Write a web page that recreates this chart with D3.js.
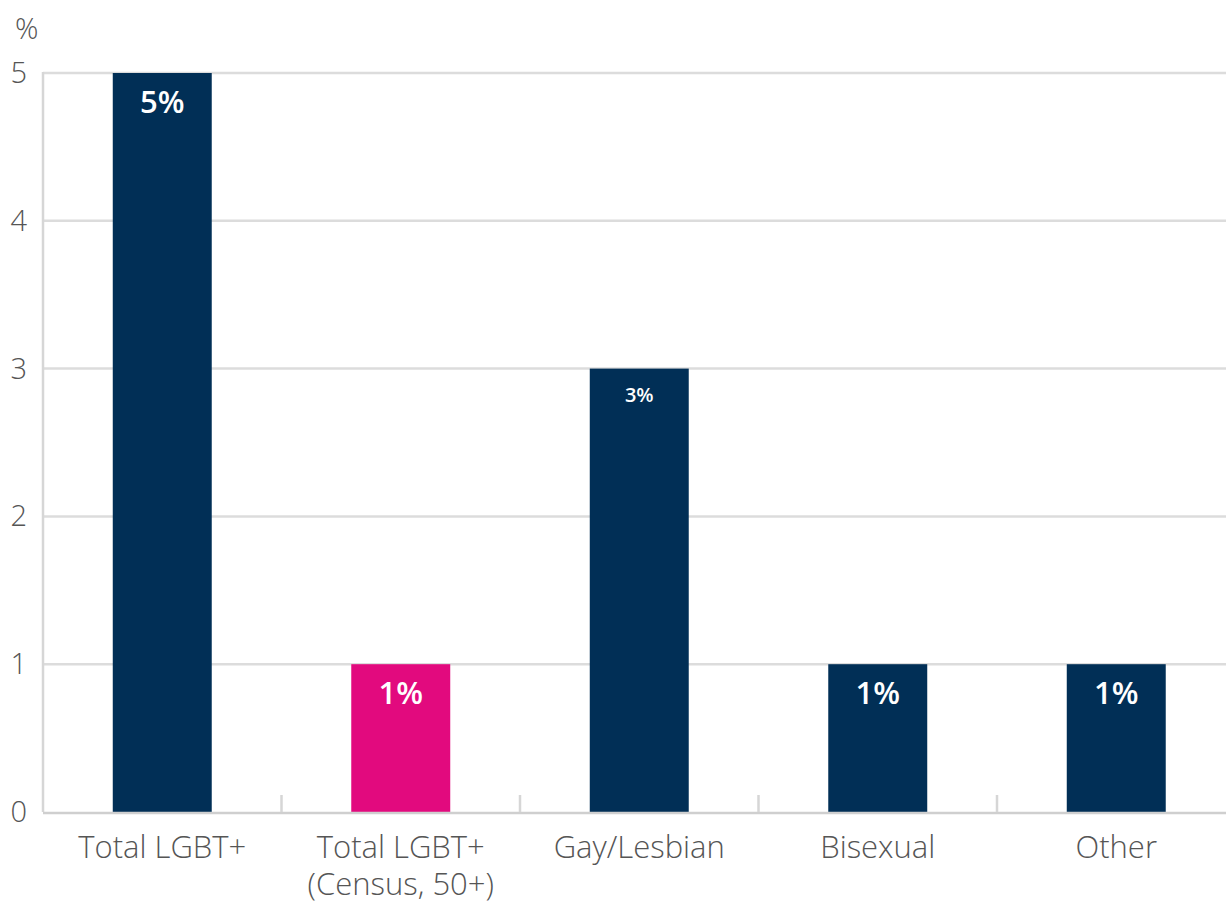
<!DOCTYPE html>
<html>
<head>
<meta charset="utf-8">
<script src="https://cdn.jsdelivr.net/npm/d3@7"></script>
<style>
  html, body { margin: 0; padding: 0; background: #fff; }
  svg { display: block; font-family: "Open Sans", "Noto Sans", sans-serif; }
</style>
</head>
<body>
<svg id="chart" width="1226" height="901"></svg>
<script>
// Share of respondents by sexual orientation (%)
const categories = ["Total LGBT+", "Total LGBT+\n(Census, 50+)", "Gay/Lesbian", "Bisexual", "Other"];
const values = [5, 1, 3, 1, 1];
const valueLabels = ["5%", "1%", "3%", "1%", "1%"];
const barColors = ["#012f56", "#e20a7e", "#012f56", "#012f56", "#012f56"];
const yTicks = [0, 1, 2, 3, 4, 5];

const svg = d3.select("#chart");
const plotLeft = 43, plotRight = 1235.5, plotTop = 73, plotBottom = 812;

const x = d3.scaleBand()
  .domain(categories)
  .range([plotLeft, plotRight])
  .paddingInner(0.585)
  .paddingOuter(0.2925);

const y = d3.scaleLinear().domain([0, 5]).range([plotBottom, plotTop]);

// horizontal gridlines
svg.append("g")
  .selectAll("line")
  .data(yTicks.filter(d => d > 0))
  .join("line")
  .attr("x1", plotLeft).attr("x2", 1226)
  .attr("y1", d => y(d)).attr("y2", d => y(d))
  .attr("stroke", "#dcdcdc").attr("stroke-width", 2.5);

// y axis line
svg.append("line")
  .attr("x1", plotLeft).attr("x2", plotLeft)
  .attr("y1", plotTop - 1).attr("y2", plotBottom)
  .attr("stroke", "#d6d6d6").attr("stroke-width", 2.5);

// y tick labels
svg.append("g")
  .selectAll("text")
  .data(yTicks)
  .join("text")
  .attr("x", 27)
  .attr("y", d => y(d) + 10)
  .attr("text-anchor", "end")
  .attr("font-size", 29)
  .attr("font-weight", 300)
  .attr("fill", "#555")
  .text(d => d);

svg.append("text")
  .attr("x", 15).attr("y", 39)
  .attr("font-size", 29)
  .attr("font-weight", 300)
  .attr("fill", "#555")
  .text("%");

// bars
svg.append("g")
  .selectAll("rect")
  .data(values)
  .join("rect")
  .attr("x", (d, i) => x(categories[i]))
  .attr("y", d => y(d))
  .attr("width", x.bandwidth())
  .attr("height", d => y(0) - y(d))
  .attr("fill", (d, i) => barColors[i]);

// value labels inside bars
svg.append("g")
  .selectAll("text")
  .data(values)
  .join("text")
  .attr("x", (d, i) => x(categories[i]) + x.bandwidth() / 2)
  .attr("y", (d, i) => y(d) + (i === 2 ? 33 : 40))
  .attr("text-anchor", "middle")
  .attr("font-size", (d, i) => i === 2 ? 20 : 31)
  .attr("font-weight", 600)
  .attr("fill", "#fff")
  .text((d, i) => valueLabels[i]);

// x axis baseline
svg.append("line")
  .attr("x1", plotLeft).attr("x2", 1226)
  .attr("y1", plotBottom + 1).attr("y2", plotBottom + 1)
  .attr("stroke", "#cfcfcf").attr("stroke-width", 2.5);

// category separator ticks
const step = x.step();
svg.append("g")
  .selectAll("line")
  .data(categories.slice(1))
  .join("line")
  .attr("x1", d => x(d) - x.paddingInner() * step / 2)
  .attr("x2", d => x(d) - x.paddingInner() * step / 2)
  .attr("y1", plotBottom - 17).attr("y2", plotBottom)
  .attr("stroke", "#d6d6d6").attr("stroke-width", 2.5);

// category labels
const catG = svg.append("g");
categories.forEach(c => {
  const t = catG.append("text")
    .attr("x", x(c) + x.bandwidth() / 2)
    .attr("y", 858)
    .attr("text-anchor", "middle")
    .attr("font-size", 31)
    .attr("font-weight", 300)
    .attr("fill", "#555");
  c.split("\n").forEach((line, k) => {
    t.append("tspan")
      .attr("x", x(c) + x.bandwidth() / 2)
      .attr("dy", k === 0 ? 0 : 37)
      .text(line);
  });
});
</script>
</body>
</html>
